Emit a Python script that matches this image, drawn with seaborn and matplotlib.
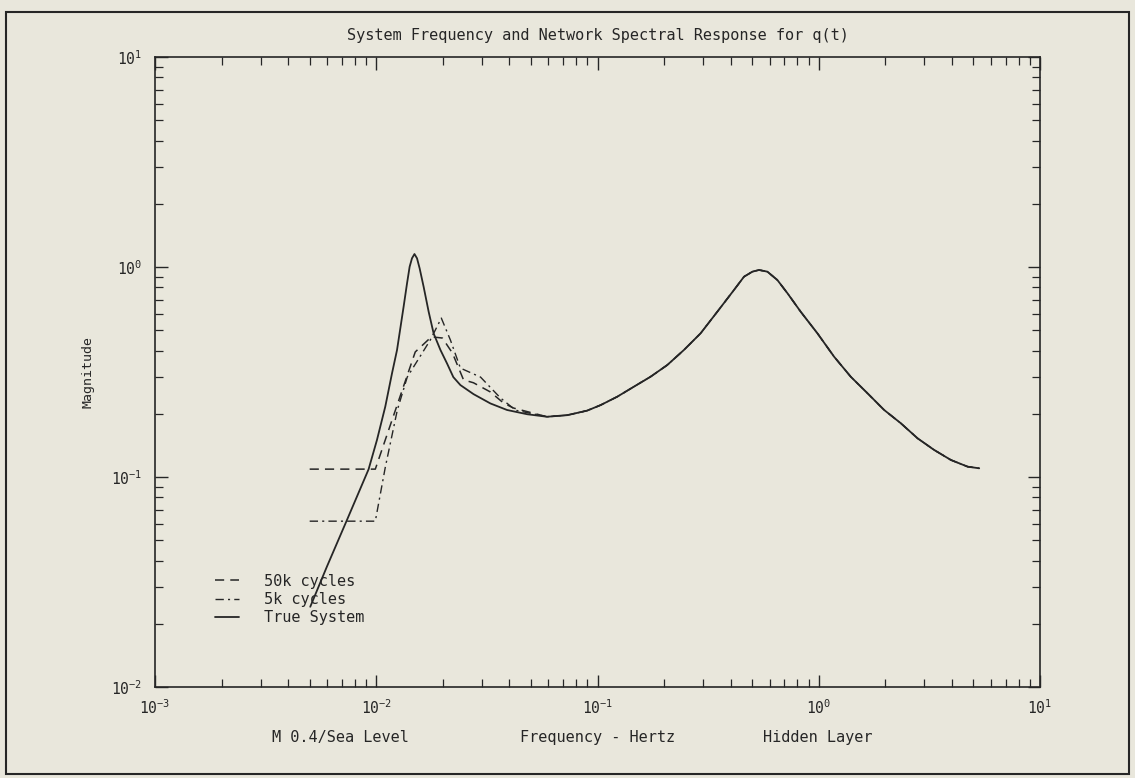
import matplotlib
matplotlib.use("Agg")
import matplotlib.pyplot as plt
import seaborn as sns
import numpy as np
from matplotlib.patches import Rectangle

# frequency (Hz) / magnitude
true_freq = [0.00503, 0.00598, 0.00737, 0.00923, 0.01007, 0.01098, 0.01178, 0.01241,
             0.01329, 0.01377, 0.01415, 0.0145, 0.01488, 0.01528, 0.0157, 0.01637,
             0.01725, 0.01816, 0.01949, 0.02089, 0.0223, 0.0240, 0.02753, 0.0328,
             0.0390, 0.0481, 0.0591, 0.0730, 0.0897, 0.1033, 0.1228, 0.1460,
             0.1737, 0.2067, 0.2457, 0.2924, 0.3479, 0.4137, 0.4592, 0.501,
             0.537, 0.586, 0.650, 0.722, 0.829, 0.9865, 1.173, 1.396,
             1.661, 1.975, 2.350, 2.797, 3.324, 3.956, 4.708, 5.31]
true_mag = [0.0241, 0.0374, 0.0624, 0.1088, 0.150, 0.2162, 0.3118, 0.4025,
            0.647, 0.835, 1.003, 1.10, 1.153, 1.10, 0.986, 0.805,
            0.612, 0.483, 0.403, 0.347, 0.299, 0.274, 0.248, 0.224,
            0.2085, 0.199, 0.1936, 0.197, 0.207, 0.220, 0.2412, 0.2692,
            0.3003, 0.3414, 0.4025, 0.4834, 0.6125, 0.7771, 0.899, 0.950,
            0.968, 0.950, 0.867, 0.750, 0.612, 0.483, 0.374, 0.300,
            0.2504, 0.2085, 0.1802, 0.1528, 0.1345, 0.1205, 0.112, 0.110]

# network responses below ~0.06 Hz; above that they lie on the true curve
net50k_freq = [0.005, 0.0099, 0.0150, 0.01775, 0.0199, 0.0221, 0.0248, 0.0275,
               0.0328, 0.0376, 0.0417]
net50k_mag = [0.109, 0.109, 0.394, 0.465, 0.459, 0.389, 0.290, 0.281,
              0.254, 0.225, 0.213]
net5k_freq = [0.005, 0.0099, 0.01099, 0.01245, 0.0138, 0.01754, 0.01968, 0.02163,
              0.0240, 0.0296, 0.0364, 0.0426]
net5k_mag = [0.0616, 0.0616, 0.1116, 0.2085, 0.299, 0.449, 0.571, 0.449,
             0.330, 0.299, 0.238, 0.208]

tail_freq = [f for f in true_freq if f >= 0.059]
tail_mag = [m for f, m in zip(true_freq, true_mag) if f >= 0.059]

bg = "#e9e7dc"
ink = "#262626"

sns.set_theme(style="ticks")
plt.rcParams["font.family"] = ["DejaVu Sans Mono", "DejaVu Sans"]

fig = plt.figure(figsize=(11.35, 7.78), dpi=100, facecolor=bg)
ax = fig.add_axes([0.1366, 0.1170, 0.7797, 0.8097])
ax.set_facecolor(bg)

sns.lineplot(x=net50k_freq + tail_freq, y=net50k_mag + tail_mag, ax=ax, color=ink,
             lw=1.1, linestyle=(0, (6, 4)), sort=False, estimator=None, label="50k cycles")
sns.lineplot(x=net5k_freq + tail_freq, y=net5k_mag + tail_mag, ax=ax, color=ink,
             lw=1.0, linestyle=(0, (6, 3, 1.5, 3)), sort=False, estimator=None, label="5k cycles")
sns.lineplot(x=true_freq, y=true_mag, ax=ax, color=ink, lw=1.3, sort=False,
             estimator=None, label="True System")

ax.set_xscale("log")
ax.set_yscale("log")
ax.set_xlim(1e-3, 1e1)
ax.set_ylim(1e-2, 1e1)

for s in ax.spines.values():
    s.set_color(ink)
    s.set_linewidth(1.2)
ax.tick_params(which="both", direction="in", top=True, right=True, color=ink,
               labelsize=10.5, labelcolor=ink)
ax.tick_params(axis="x", pad=8)
ax.tick_params(axis="y", pad=9)
ax.tick_params(which="major", length=9, width=1.0)
ax.tick_params(which="minor", length=6, width=0.9)

ax.set_title("System Frequency and Network Spectral Response for q(t)",
             fontsize=11, color=ink, pad=12)
ax.set_xlabel("Frequency - Hertz", fontsize=11, color=ink)
ax.xaxis.set_label_coords(0.5, -0.081)
ax.xaxis.label.set_va("center")
ax.set_ylabel("Magnitude", fontsize=9.5, color=ink)
ax.yaxis.set_label_coords(-0.076, 0.5)
ax.yaxis.label.set_va("center")
ax.text(0.209, -0.081, "M 0.4/Sea Level", transform=ax.transAxes, ha="center",
        va="center", fontsize=11, color=ink)
ax.text(0.749, -0.081, "Hidden Layer", transform=ax.transAxes, ha="center",
        va="center", fontsize=11, color=ink)

leg = ax.legend(loc="lower left", bbox_to_anchor=(0.0678, 0.098), frameon=False,
                fontsize=11, handlelength=1.6, handletextpad=1.6, labelspacing=0.22,
                borderaxespad=0, borderpad=0)
for t in leg.get_texts():
    t.set_color(ink)

fig.patches.append(Rectangle((0.005, 0.005), 0.99, 0.98, transform=fig.transFigure,
                             fill=False, edgecolor=ink, lw=1.5))

fig.savefig("out.png", dpi=100, facecolor=bg)
